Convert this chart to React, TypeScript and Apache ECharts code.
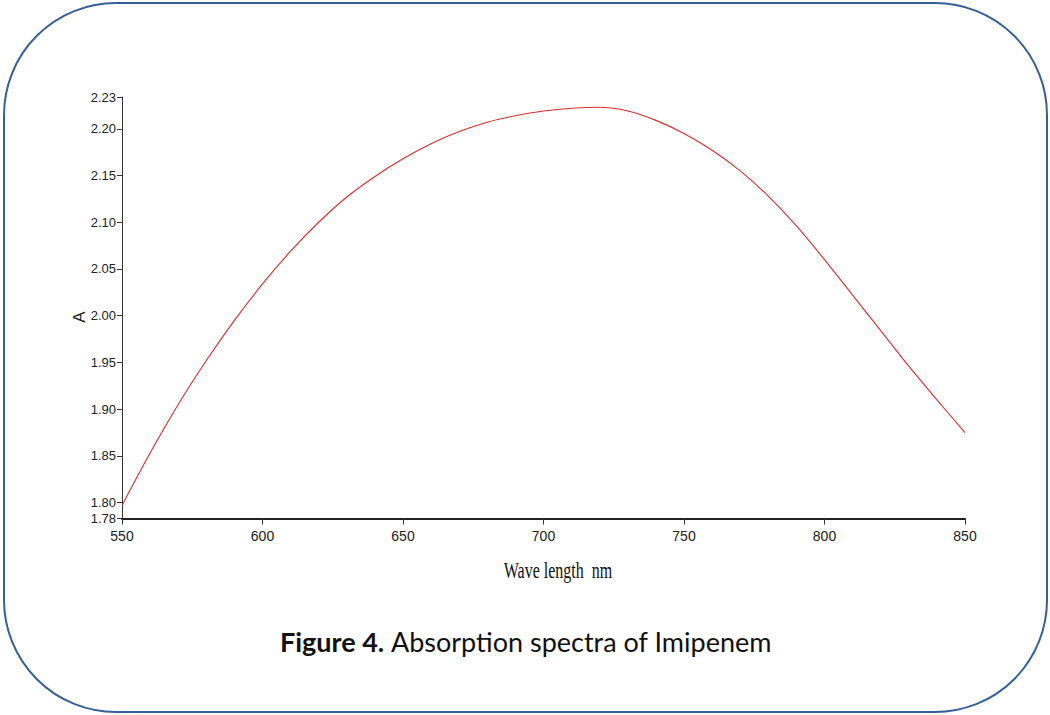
import React, { useEffect, useRef } from "react";
import * as echarts from "echarts";

const wavelengths = [550, 560, 570, 580, 590, 600, 610, 620, 630, 640, 650, 660, 670, 680, 690, 700, 710, 720, 730, 740, 750, 760, 770, 780, 790, 800, 810, 820, 830, 840, 850];
const absorbance = [1.797, 1.853, 1.905, 1.952, 1.995, 2.034, 2.069, 2.1, 2.127, 2.149, 2.168, 2.184, 2.197, 2.207, 2.214, 2.219, 2.222, 2.223, 2.219, 2.209, 2.195, 2.177, 2.155, 2.128, 2.096, 2.06, 2.022, 1.984, 1.946, 1.91, 1.875];
const yTickValues = [1.783, 1.8, 1.85, 1.9, 1.95, 2.0, 2.05, 2.1, 2.15, 2.2, 2.234];
const xTickValues = [550, 600, 650, 700, 750, 800, 850];
const titleBold = "Figure 4.";
const titleRest = " Absorption spectra of Imipenem";
const xName = "Wave length  nm";
const yName = "A";

export default function App() {
  const ref = useRef<HTMLDivElement>(null);
  useEffect(() => {
    document.body.style.margin = "0";
    const chart = echarts.init(ref.current!, null, { renderer: "svg" });
    const labelFont = "'Liberation Sans Narrow', 'Arial Narrow', 'Liberation Sans', sans-serif";
    chart.setOption({
      animation: false,
      backgroundColor: "#ffffff",
      grid: { left: 122, right: 85, top: 97, bottom: 196.5 },
      xAxis: {
        type: "value",
        min: 550,
        max: 850,
        interval: 50,
        axisLine: { show: true, lineStyle: { color: "#222", width: 2 } },
        axisTick: { show: true, length: 6, lineStyle: { color: "#333", width: 1 }, customValues: xTickValues },
        axisLabel: { color: "#222", fontSize: 14, fontFamily: labelFont, margin: 10, customValues: xTickValues },
        splitLine: { show: false },
      },
      yAxis: {
        type: "value",
        min: 1.783,
        max: 2.234,
        axisLine: { show: true, lineStyle: { color: "#333", width: 1 } },
        axisTick: { show: true, length: 5, lineStyle: { color: "#333", width: 1 }, customValues: yTickValues },
        axisLabel: {
          color: "#222",
          fontSize: 13,
          fontFamily: labelFont,
          margin: 6,
          customValues: yTickValues,
          formatter: (v: number) => v.toFixed(2),
        },
        splitLine: { show: false },
      },
      series: [
        {
          type: "line",
          data: wavelengths.map((w, i) => [w, absorbance[i]]),
          showSymbol: false,
          smooth: 0.3,
          lineStyle: { color: "#dc2b2b", width: 1.1 },
        },
      ],
      graphic: [
        {
          type: "rect",
          shape: { x: 4, y: 3, width: 1043, height: 709, r: 112 },
          style: { fill: "none", stroke: "#35609a", lineWidth: 2 },
          silent: true,
        },
        {
          type: "text",
          x: 79,
          y: 317,
          rotation: Math.PI / 2,
          style: {
            text: yName,
            font: "17px 'Liberation Sans', sans-serif",
            fill: "#222",
            align: "center",
            verticalAlign: "middle",
          },
        },
        {
          type: "text",
          x: 558,
          y: 571,
          scaleY: 1.4,
          style: {
            text: xName,
            font: "16px 'Liberation Serif', 'Times New Roman', serif",
            fill: "#111",
            align: "center",
            verticalAlign: "middle",
          },
        },
        {
          type: "text",
          x: 526,
          y: 641,
          style: {
            text: "{b|" + titleBold + "}{n|" + titleRest + "}",
            align: "center",
            verticalAlign: "middle",
            rich: {
              b: { font: "bold 27px Lato, 'Noto Sans', sans-serif", fill: "#111" },
              n: { font: "27px Lato, 'Noto Sans', sans-serif", fill: "#111" },
            },
          },
        },
      ],
    });
    return () => chart.dispose();
  }, []);
  return <div ref={ref} style={{ position: "fixed", left: 0, top: 0, width: 1050, height: 715 }} />;
}
